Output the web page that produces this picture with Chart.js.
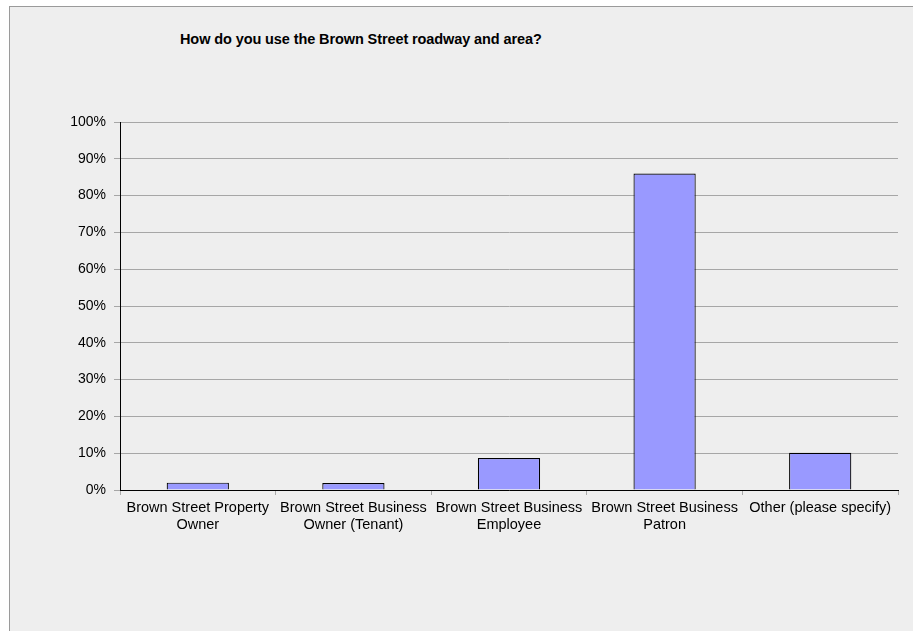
<!DOCTYPE html>
<html>
<head>
<meta charset="utf-8">
<script src="https://cdn.jsdelivr.net/npm/chart.js@4.4.0/dist/chart.umd.min.js"></script>
<style>
  html, body { margin: 0; padding: 0; background: #ffffff; }
  #frame {
    position: absolute; left: 9px; top: 6px;
    width: 903px; height: 624px;
    background: #eeeeee;
    border-left: 1px solid #9a9a9a;
    border-top: 1px solid #9a9a9a;
    overflow: hidden;
  }
  #title {
    position: absolute; left: 170px; top: 24px;
    font: bold 14.5px "Liberation Sans", Arial, sans-serif;
    letter-spacing: -0.1px;
    color: #000;
    white-space: nowrap;
  }
  #usageChart { position: absolute; left: 0; top: 0; }
</style>
</head>
<body>
<div id="frame">
  <div id="title">How do you use the Brown Street roadway and area?</div>
  <canvas id="usageChart" width="903" height="624"></canvas>
</div>
<script>
// survey answers, share of respondents (%)
const categories = [
  ['Brown Street Property', 'Owner'],
  ['Brown Street Business', 'Owner (Tenant)'],
  ['Brown Street Business', 'Employee'],
  ['Brown Street Business', 'Patron'],
  ['Other (please specify)']
];
const responses = [2.0, 1.9, 8.7, 86.0, 10.1];
const yTicks = [0, 10, 20, 30, 40, 50, 60, 70, 80, 90, 100];

const ctx = document.getElementById('usageChart');

new Chart(ctx, {
  type: 'bar',
  data: {
    labels: categories,
    datasets: [
      {
        data: responses,
        backgroundColor: '#9999ff',
        borderColor: '#000000',
        borderWidth: 1.2,
        barPercentage: 0.4,
        categoryPercentage: 1.0,
      },
    ],
  },
  options: {
    responsive: false,
    animation: false,
    layout: { padding: { left: 0, top: 115, right: 15, bottom: 81 } },
    plugins: {
      legend: { display: false },
      tooltip: { enabled: false },
    },
    scales: {
      x: {
        grid: { drawOnChartArea: false, tickLength: 5, color: '#aaaaaa' },
        border: { color: '#000000', width: 1 },
        ticks: {
          color: '#000000',
          padding: 5,
          maxRotation: 0,
          autoSkip: false,
          font: { family: 'Liberation Sans', size: 14.5, lineHeight: 1.17 },
        },
        afterFit: (scale) => { scale.height = 60; },
      },
      y: {
        min: 0,
        max: 100,
        afterBuildTicks: (scale) => { scale.ticks = yTicks.map((v) => ({ value: v })); },
        grid: { color: '#a6a6a6', tickLength: 6 },
        border: { color: '#000000', width: 1 },
        ticks: {
          color: '#000000',
          padding: 8,
          font: { family: 'Liberation Sans', size: 14 },
          callback: (v) => v + '%',
        },
        afterFit: (scale) => { scale.width = 110; },
      },
    },
  },
});
</script>
</body>
</html>
